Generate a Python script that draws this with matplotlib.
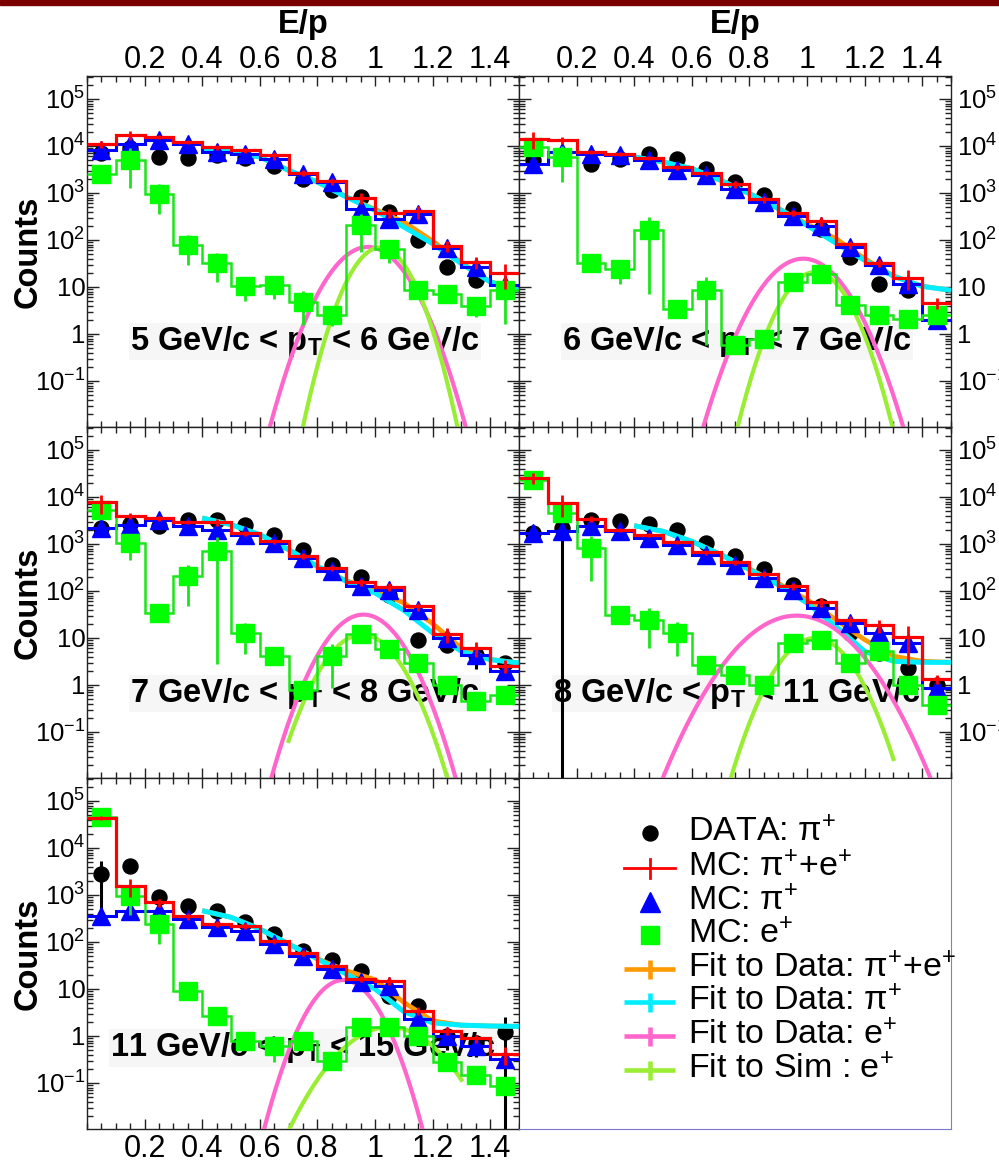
import numpy as np
import matplotlib
matplotlib.use("Agg")
import matplotlib.pyplot as plt
from matplotlib.ticker import FixedLocator, FixedFormatter, LogLocator, NullFormatter, MultipleLocator
from matplotlib.patches import Rectangle

plt.rcParams['font.family'] = ['Liberation Sans', 'DejaVu Sans']
plt.rcParams['mathtext.fontset'] = 'custom'
plt.rcParams['mathtext.rm'] = 'Liberation Sans'
plt.rcParams['mathtext.it'] = 'Liberation Sans:italic'
plt.rcParams['mathtext.bf'] = 'Liberation Sans:bold'

# ---------------- data ----------------
bin_edges = [0.0, 0.1, 0.2, 0.3, 0.4, 0.5, 0.6, 0.7, 0.8, 0.9, 1.0, 1.1, 1.2, 1.3, 1.4, 1.5]
bin_centers = [0.05, 0.15, 0.25, 0.35, 0.45, 0.55, 0.65, 0.75, 0.85, 0.95, 1.05, 1.15, 1.25, 1.35, 1.45]
fit_x = [0.4, 0.5, 0.6, 0.7, 0.8, 0.9, 1.0, 1.1, 1.2, 1.3, 1.4, 1.5]
sim_fit_range = [0.7, 1.3]

xtick_vals = [0.2, 0.4, 0.6, 0.8, 1.0, 1.2, 1.4]
xtick_labels = ["0.2", "0.4", "0.6", "0.8", "1", "1.2", "1.4"]
ytick_vals = [1e-1, 1, 10, 1e2, 1e3, 1e4, 1e5]
ytick_labels = [r"$10^{-1}$", "1", "10", r"$10^{2}$", r"$10^{3}$", r"$10^{4}$", r"$10^{5}$"]

panel_labels = [r"5 GeV/c < $\mathbf{p}_{\mathbf{T}}$ < 6 GeV/c",
                r"6 GeV/c < $\mathbf{p}_{\mathbf{T}}$ < 7 GeV/c",
                r"7 GeV/c < $\mathbf{p}_{\mathbf{T}}$ < 8 GeV/c",
                r"8 GeV/c < $\mathbf{p}_{\mathbf{T}}$ < 11 GeV/c",
                r"11 GeV/c < $\mathbf{p}_{\mathbf{T}}$ < 15 GeV/c"]

# 5-6 GeV/c
data_5_6 = [7000, 9000, 5830, 5650, 6330, 5650, 3700, 2020, 1140, 820, 395, 101, 26.7, 13.9, 8.7]
data_relerr_5_6 = [0.05, 0.05, 0.05, 0.05, 0.05, 0.05, 0.05, 0.06, 0.08, 0.08, 0.1, 0.15, 0.2, 0.25, 0.3]
mcsum_5_6 = [10840, 16870, 15500, 12160, 9520, 8090, 6330, 2670, 1770, 793, 382, 409, 74.5, 34, 19.9]
mcsum_relerr_5_6 = [0.15, 0.22, 0.1, 0.1, 0.12, 0.12, 0.2, 0.15, 0.15, 0.25, 0.22, 0.3, 0.25, 0.3, 0.55]
mcpi_5_6 = [8090, 11200, 13200, 11200, 7450, 6650, 5380, 2580, 1710, 465, 285, 363, 68.7, 26.7, 10.8]
mce_5_6 = [2490, 5120, 966, 79.6, 32.8, 10.3, 10.8, 4.86, 2.5, 205, 65, 8.5, 7.0, 3.9, 8.7]
mce_relerr_5_6 = [0.3, 0.75, 0.63, 0.64, 0.61, 0.5, 0.48, 0.68, 0.4, 0.73, 0.5, 0.3, 0.3, 0.4, 0.81]
fitpi_5_6 = [8360, 7450, 5840, 3030, 1710, 822, 428, 189, 83.6, 31.3, 12.8, 8.5]
fitsum_5_6 = [8360, 7450, 5840, 3030, 1710, 830, 450, 242, 95, 33, 13.0, 8.6]
gaus_data_e_5_6 = [71, 0.975, 0.081]   # amplitude, mean, sigma
gaus_sim_e_5_6 = [69, 1.018, 0.064]

# 6-7 GeV/c
data_6_7 = [5000, 6000, 4200, 5380, 6650, 5200, 3290, 1710, 892, 465, 174, 43.5, 11.8, 8.5, 2.0]
data_relerr_6_7 = [0.05, 0.05, 0.05, 0.05, 0.05, 0.05, 0.05, 0.06, 0.08, 0.08, 0.1, 0.15, 0.2, 0.25, 0.3]
mcsum_6_7 = [14300, 13200, 7450, 6650, 5650, 3570, 2670, 1530, 733, 382, 254, 81, 33, 15.5, 4.6]
mcsum_relerr_6_7 = [0.4, 0.15, 0.1, 0.1, 0.1, 0.12, 0.12, 0.15, 0.15, 0.15, 0.2, 0.2, 0.2, 0.45, 0.25]
mcpi_6_7 = [4200, 7450, 6850, 6330, 4950, 3040, 2380, 1235, 644, 319, 195, 71, 28.8, 11.8, 1.95]
mce_6_7 = [9520, 5830, 32.4, 24.5, 161, 3.46, 8.5, 0.574, 0.79, 12.8, 19.2, 4.07, 2.5, 2.1, 2.5]
mce_relerr_6_7 = [0.2, 0.7, 0.3, 0.52, 0.955, 0.3, 0.93, 0.3, 0.3, 0.3, 0.3, 0.3, 0.3, 0.3, 0.3]
fitpi_6_7 = [5840, 4570, 3300, 1860, 968, 464, 205, 86, 36.9, 16.9, 10.3, 8.5]
fitsum_6_7 = [5840, 4570, 3300, 1860, 975, 475, 218, 107, 40, 17.2, 10.4, 8.5]
gaus_data_e_6_7 = [40, 0.987, 0.0855]
gaus_sim_e_6_7 = [20.8, 1.028, 0.069]

# 7-8 GeV/c
data_7_8 = [2200, 2600, 2380, 3300, 3300, 2580, 1580, 758, 364, 199, 83, 9.2, 7.2, 4.4, 2.9]
data_relerr_7_8 = [0.05, 0.05, 0.05, 0.05, 0.05, 0.05, 0.06, 0.08, 0.08, 0.1, 0.12, 0.25, 0.3, 0.5, 0.4]
mcsum_7_8 = [7710, 4000, 3510, 2890, 2890, 1710, 1140, 565, 309, 153, 122, 47, 12.2, 6.1, 2.57]
mcsum_relerr_7_8 = [0.45, 0.15, 0.12, 0.1, 0.15, 0.12, 0.12, 0.15, 0.15, 0.15, 0.2, 0.2, 0.35, 0.35, 0.3]
mcpi_7_8 = [2190, 2580, 3190, 2380, 2020, 1580, 1050, 504, 262, 126, 107, 40, 10, 4.4, 1.95]
mce_7_8 = [5370, 1050, 34, 205, 698, 12.8, 4.07, 0.78, 4.07, 12.4, 5.8, 3.0, 1.0, 0.45, 0.62]
mce_relerr_7_8 = [0.3, 0.56, 0.3, 0.77, 0.996, 0.65, 0.3, 0.3, 0.79, 0.3, 0.3, 0.3, 0.3, 0.3, 0.3]
fitpi_7_8 = [3570, 2580, 1580, 758, 335, 161, 90.6, 38.8, 12.8, 5.2, 3.46, 2.94]
fitsum_7_8 = [3570, 2580, 1580, 758, 335, 165, 107, 55.6, 20.2, 6.1, 3.5, 2.94]
gaus_data_e_7_8 = [31.4, 0.96, 0.080]
gaus_sim_e_7_8 = [11.8, 0.955, 0.079]

# 8-11 GeV/c
data_8_11 = [1700, 2190, 3300, 3030, 2710, 1950, 1050, 547, 294, 136, 47, 12.8, 4.8, 2.3, 1.0]
data_relerr_8_11 = [0.05, 1.5, 0.05, 0.05, 0.05, 0.05, 0.06, 0.08, 0.08, 0.1, 0.12, 0.2, 0.3, 0.4, 0.5]
mcsum_8_11 = [25300, 7450, 3400, 2020, 1580, 1085, 665, 414, 234, 126, 58, 23.8, 18.6, 10.5, 1.34]
mcsum_relerr_8_11 = [0.25, 0.5, 0.15, 0.1, 0.1, 0.1, 0.12, 0.12, 0.15, 0.15, 0.2, 0.25, 0.3, 0.75, 0.2]
mcpi_8_11 = [1710, 1860, 2380, 1860, 1340, 968, 593, 364, 189, 107, 43.5, 20.9, 12.8, 7.8, 0.86]
mce_8_11 = [23400, 4570, 822, 31.4, 24.6, 12.8, 2.7, 1.66, 1.0, 7.8, 9.2, 2.9, 5.2, 1.0, 0.38]
mce_relerr_8_11 = [0.1, 0.2, 0.8, 0.3, 0.75, 0.68, 0.3, 0.3, 0.3, 0.3, 0.3, 0.3, 0.3, 0.3, 0.3]
fitpi_8_11 = [2450, 1860, 1140, 593, 285, 136, 55.6, 17.7, 5.2, 3.19, 3.03, 3.03]
fitsum_8_11 = [2450, 1860, 1140, 600, 295, 145, 65.5, 24.6, 9.2, 4.1, 3.2, 3.03]
gaus_data_e_8_11 = [29.9, 0.964, 0.1165]
gaus_sim_e_8_11 = [10, 1.028, 0.079]

# 11-15 GeV/c
data_11_15 = [2800, 4200, 890, 593, 464, 262, 148, 65, 42, 24.5, 7.2, 4.4, 1.0, 0.7, 1.2]
data_relerr_11_15 = [0.9, 0.1, 0.1, 0.08, 0.08, 0.1, 0.1, 0.12, 0.15, 0.15, 0.2, 0.25, 0.5, 0.5, 1.1]
mcsum_11_15 = [42800, 1530, 698, 352, 242, 223, 107, 58, 31.3, 16.3, 15.0, 3.46, 1.3, 0.89, 0.41]
mcsum_relerr_11_15 = [0.1, 0.42, 0.2, 0.15, 0.15, 0.15, 0.15, 0.15, 0.15, 0.15, 0.2, 0.2, 0.2, 0.2, 0.4]
mcpi_11_15 = [363, 464, 464, 309, 205, 174, 91, 51, 26.7, 13.9, 11.8, 2.3, 1.0, 0.62, 0.32]
mce_11_15 = [45000, 968, 242, 9.2, 2.6, 0.79, 0.62, 0.79, 0.30, 1.53, 1.53, 1.0, 0.275, 0.148, 0.088]
mce_relerr_11_15 = [0.1, 0.62, 0.63, 0.3, 0.3, 0.3, 0.55, 0.3, 0.3, 0.3, 0.3, 0.3, 0.3, 0.3, 0.3]
fitpi_11_15 = [464, 335, 189, 90.6, 43.5, 20.8, 10, 3.3, 1.9, 1.7, 1.63, 1.6]
fitsum_11_15 = [464, 335, 189, 90.6, 44, 24.5, 15.8, 5.2, 2.1, 1.7, 1.63, 1.6]
gaus_data_e_11_15 = [15.5, 0.89, 0.072]
gaus_sim_e_11_15 = [1.55, 1.05, 0.11]

legend_labels = [r"DATA: π$^{+}$", r"MC: π$^{+}$+e$^{+}$", r"MC: π$^{+}$", r"MC: e$^{+}$",
                 r"Fit to Data: π$^{+}$+e$^{+}$", r"Fit to Data: π$^{+}$",
                 r"Fit to Data: e$^{+}$", r"Fit to Sim : e$^{+}$"]

# ---------------- styles ----------------
C_DATA = 'black'
C_SUM = '#ff0000'
C_PI = '#0000ff'
C_E = '#00ff00'
C_E_LINE = '#19e619'
C_FITSUM = '#ff9900'
C_FITPI = '#00eeff'
C_FITE = '#ff66cc'
C_SIME = '#99ee33'

W, H = 999, 1162
fig = plt.figure(figsize=(W / 100, H / 100), dpi=100)


def rect(x0, y0, w, h):
    return [x0 / W, 1 - (y0 + h) / H, w / W, h / H]


def gauss(p, x):
    a, m, s = p
    return a * np.exp(-0.5 * ((x - m) / s) ** 2)


panels = [
    dict(pos=(87, 76), col=0, row=0, data=data_5_6, derr=data_relerr_5_6, mcsum=mcsum_5_6,
         serr=mcsum_relerr_5_6, mcpi=mcpi_5_6, mce=mce_5_6, eerr=mce_relerr_5_6,
         fitpi=fitpi_5_6, fitsum=fitsum_5_6, gd=gaus_data_e_5_6, gs=gaus_sim_e_5_6,
         lab=panel_labels[0], ly=0.219, lx=0.505),
    dict(pos=(519, 76), col=1, row=0, data=data_6_7, derr=data_relerr_6_7, mcsum=mcsum_6_7,
         serr=mcsum_relerr_6_7, mcpi=mcpi_6_7, mce=mce_6_7, eerr=mce_relerr_6_7,
         fitpi=fitpi_6_7, fitsum=fitsum_6_7, gd=gaus_data_e_6_7, gs=gaus_sim_e_6_7,
         lab=panel_labels[1], ly=0.219, lx=0.505),
    dict(pos=(87, 427), col=0, row=1, data=data_7_8, derr=data_relerr_7_8, mcsum=mcsum_7_8,
         serr=mcsum_relerr_7_8, mcpi=mcpi_7_8, mce=mce_7_8, eerr=mce_relerr_7_8,
         fitpi=fitpi_7_8, fitsum=fitsum_7_8, gd=gaus_data_e_7_8, gs=gaus_sim_e_7_8,
         lab=panel_labels[2], ly=0.217, lx=0.505),
    dict(pos=(519, 427), col=1, row=1, data=data_8_11, derr=data_relerr_8_11, mcsum=mcsum_8_11,
         serr=mcsum_relerr_8_11, mcpi=mcpi_8_11, mce=mce_8_11, eerr=mce_relerr_8_11,
         fitpi=fitpi_8_11, fitsum=fitsum_8_11, gd=gaus_data_e_8_11, gs=gaus_sim_e_8_11,
         lab=panel_labels[3], ly=0.217, lx=0.505),
    dict(pos=(87, 778), col=0, row=2, data=data_11_15, derr=data_relerr_11_15, mcsum=mcsum_11_15,
         serr=mcsum_relerr_11_15, mcpi=mcpi_11_15, mce=mce_11_15, eerr=mce_relerr_11_15,
         fitpi=fitpi_11_15, fitsum=fitsum_11_15, gd=gaus_data_e_11_15, gs=gaus_sim_e_11_15,
         lab=panel_labels[4], ly=0.207, lx=0.50),
]

PW, PH = 432, 351
xs_full = np.linspace(0.0, 1.5, 400)
xs_sim = np.linspace(sim_fit_range[0], sim_fit_range[1], 200)

for p in panels:
    ax = fig.add_axes(rect(p['pos'][0], p['pos'][1], PW, PH))
    ax.set_yscale('log')
    ax.set_xlim(0, 1.5)
    ax.set_ylim(0.0105, 3.08e5)

    ctr = np.array(bin_centers)
    data = np.array(p['data'])
    mcsum = np.array(p['mcsum'])
    mcpi = np.array(p['mcpi'])
    mce = np.array(p['mce'])

    # panel text (under everything)
    ax.text(p['lx'], p['ly'], p['lab'], transform=ax.transAxes, ha='center', va='baseline',
            fontsize=23.5, fontweight='bold', zorder=1,
            bbox=dict(facecolor='#f6f6f6', edgecolor='none', pad=1.0))

    # DATA
    ax.errorbar(ctr, data, yerr=data * np.array(p['derr']), fmt='o', color=C_DATA,
                ms=10.8, elinewidth=2.2, capsize=0, zorder=2)

    # fits
    ax.plot(fit_x, p['fitsum'], color=C_FITSUM, lw=3.4, zorder=3, solid_capstyle='butt')
    ax.plot(fit_x, p['fitpi'], color=C_FITPI, lw=3.6, zorder=3.1, solid_capstyle='butt')
    ax.plot(xs_full, gauss(p['gd'], xs_full), color=C_FITE, lw=3.0, zorder=3.2)
    ax.plot(xs_sim, gauss(p['gs'], xs_sim), color=C_SIME, lw=3.0, zorder=3.3)

    # MC pi
    ax.stairs(mcpi, bin_edges, baseline=None, color=C_PI, lw=2.2, zorder=4)
    ax.plot(ctr, mcpi, linestyle='none', marker='^', color=C_PI, ms=13.5, zorder=4.1)

    # MC e
    ax.stairs(mce, bin_edges, baseline=None, color=C_E_LINE, lw=1.8, zorder=5)
    ax.errorbar(ctr, mce, yerr=mce * np.array(p['eerr']), fmt='s', color=C_E, ecolor=C_E_LINE,
                ms=12.3, elinewidth=2.0, capsize=0, zorder=5.1)

    # MC sum
    ax.stairs(mcsum, bin_edges, baseline=None, color=C_SUM, lw=2.3, zorder=6)
    ax.errorbar(ctr, mcsum, yerr=mcsum * np.array(p['serr']), fmt='none', ecolor=C_SUM,
                elinewidth=2.0, capsize=0, zorder=6.1)

    # axes & ticks
    ax.xaxis.set_major_locator(FixedLocator(xtick_vals))
    ax.xaxis.set_major_formatter(FixedFormatter(xtick_labels))
    ax.xaxis.set_minor_locator(MultipleLocator(0.05))
    ax.yaxis.set_major_locator(FixedLocator(ytick_vals))
    ax.yaxis.set_major_formatter(FixedFormatter(ytick_labels))
    ax.yaxis.set_minor_locator(LogLocator(base=10, subs=np.arange(2, 10), numticks=30))
    ax.yaxis.set_minor_formatter(NullFormatter())
    ax.tick_params(which='both', direction='in', top=True, bottom=True, left=True, right=True,
                   width=1.0, color='#222222')
    ax.tick_params(axis='x', which='major', length=7.3)
    ax.tick_params(axis='x', which='minor', length=4.2)
    ax.tick_params(axis='y', which='major', length=8.6)
    ax.tick_params(axis='y', which='minor', length=4.3)
    top_row = p['row'] == 0
    bottom_row = p['row'] == 2
    ax.tick_params(axis='x', labeltop=top_row, labelbottom=bottom_row, labelsize=22,
                   pad=1.0 if top_row else 3.5)
    if p['col'] == 0:
        ax.tick_params(axis='y', labelleft=True, labelright=False, labelsize=18.5, pad=1.2)
        ax.text(-0.136, 0.5, 'Counts', transform=ax.transAxes, rotation=90, ha='center',
                va='center', fontsize=23.5, fontweight='bold')
    else:
        ax.tick_params(axis='y', labelleft=False, labelright=True, labelsize=18.5, pad=4.3)
    for s in ax.spines.values():
        s.set_linewidth(1.0)
        s.set_color('#222222')
    if top_row:
        ax.text(0.5, 1 + (76 - 33) / PH, 'E/p', transform=ax.transAxes, ha='center',
                va='baseline', fontsize=23.5, fontweight='bold')

# ---------------- legend box ----------------
axl = fig.add_axes(rect(519, 778, PW, PH))
axl.set_xlim(0, 1)
axl.set_ylim(0, 1)
axl.set_xticks([])
axl.set_yticks([])
axl.spines['right'].set_color('#888888')
axl.spines['bottom'].set_color('#7777cc')
axl.spines['top'].set_color('#222222')
axl.spines['left'].set_color('#222222')

row_px = [833, 868, 902, 935, 969, 1002, 1036, 1070]
row_y = [1 - (y - 778) / PH for y in row_px]
mx = (650 - 519) / PW
lx0, lx1 = (624 - 519) / PW, (675 - 519) / PW
tick_h = 9.5 / PH
tx = (688 - 519) / PW

axl.plot([mx], [row_y[0]], 'o', color=C_DATA, ms=10.8)
axl.plot([lx0, lx1], [row_y[1]] * 2, color=C_SUM, lw=2.0)
axl.plot([mx, mx], [row_y[1] - tick_h, row_y[1] + tick_h], color=C_SUM, lw=2.0)
axl.plot([mx], [row_y[2]], '^', color=C_PI, ms=14)
axl.plot([mx], [row_y[3]], 's', color=C_E, ms=12.5)
for i, c in zip([4, 5, 6, 7], [C_FITSUM, C_FITPI, C_FITE, C_SIME]):
    axl.plot([lx0, lx1], [row_y[i]] * 2, color=c, lw=3.3, solid_capstyle='butt')
    axl.plot([mx, mx], [row_y[i] - tick_h, row_y[i] + tick_h], color=c, lw=3.3,
             solid_capstyle='butt')
for i, lab in enumerate(legend_labels):
    axl.text(tx, row_y[i] - 8.5 / PH, lab, ha='left', va='baseline', fontsize=24.5,
             clip_on=False)

# top dark-red bar
fig.add_artist(Rectangle((0, 1 - 5 / H), 1, 5 / H, transform=fig.transFigure,
                         color='#7a0000', zorder=10))

fig.savefig('out.png', dpi=100)
